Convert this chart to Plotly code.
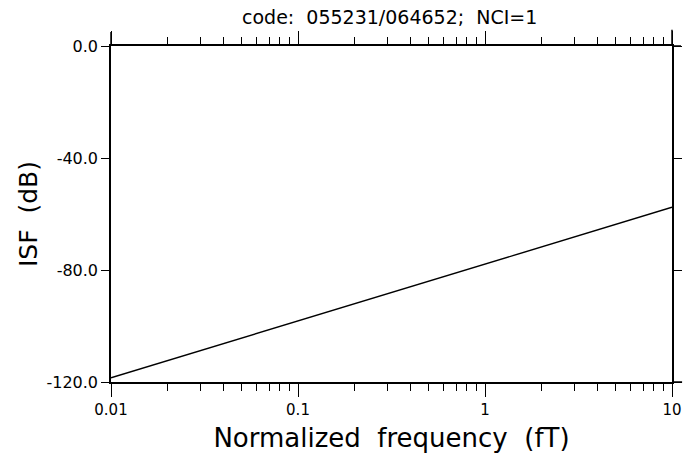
import plotly.graph_objects as go

# Data
freq = [0.01, 0.1, 1, 10]
isf_db = [-118.5, -98.2, -77.9, -57.6]

x_tickvals = [0.01, 0.1, 1, 10]
x_ticktext = ["0.01", "0.1", "1", "10"]
y_tickvals = [0, -40, -80, -120]
y_ticktext = ["0.0", "-40.0", "-80.0", "-120.0"]

title_text = "code:  055231/064652;  NCI=1"
x_title = "Normalized  frequency  (fT)"
y_title = "ISF  (dB)"

FONT = "DejaVu Sans"

fig = go.Figure()
fig.add_trace(go.Scatter(x=freq, y=isf_db, mode="lines",
                         line=dict(color="black", width=1.4),
                         showlegend=False, hoverinfo="skip"))

fig.update_layout(
    width=694, height=454,
    margin=dict(l=111, r=22, t=46, b=72),
    paper_bgcolor="white", plot_bgcolor="white",
    title=dict(text=title_text, x=0.5615, xanchor="center", y=0.962, yanchor="middle",
               font=dict(family=FONT, size=19, color="black")),
    font=dict(family=FONT, color="black"),
)

fig.update_xaxes(
    type="log", range=[-2, 1], automargin=False,
    tickvals=x_tickvals, ticktext=x_ticktext,
    ticks="outside", ticklen=13, tickwidth=1.2, tickcolor="black",
    minor=dict(ticks="outside", ticklen=7, tickwidth=1.2, tickcolor="black",
               dtick="D1", showgrid=False),
    showline=True, linecolor="black", linewidth=1.5, mirror="ticks",
    showgrid=False, zeroline=False,
    tickfont=dict(family=FONT, size=15, color="black"),
    title=dict(text=x_title, font=dict(family=FONT, size=26, color="black"), standoff=11),
)

fig.update_yaxes(
    range=[-120, 0], automargin=False,
    tickvals=y_tickvals, ticktext=y_ticktext,
    ticks="outside", ticklen=8, tickwidth=1.2, tickcolor="black",
    showline=True, linecolor="black", linewidth=1.5, mirror="ticks",
    showgrid=False, zeroline=False,
    tickfont=dict(family=FONT, size=16, color="black"),
    title=dict(text=y_title, font=dict(family=FONT, size=25, color="black"), standoff=2),
)

# small overshoot of the frame lines as in the original plot
fig.add_shape(type="line", xref="paper", yref="paper", x0=0, x1=0, y0=1, y1=1.042,
              line=dict(color="black", width=1.5))
fig.add_shape(type="line", xref="paper", yref="paper", x0=1, x1=1, y0=1, y1=1.048,
              line=dict(color="black", width=1.5))
fig.add_shape(type="line", xref="paper", yref="paper", x0=1, x1=1.016, y0=1, y1=1,
              line=dict(color="black", width=1.5))
fig.add_shape(type="line", xref="paper", yref="paper", x0=1, x1=1.018, y0=0, y1=0,
              line=dict(color="black", width=1.5))

fig.write_html("out.html")
